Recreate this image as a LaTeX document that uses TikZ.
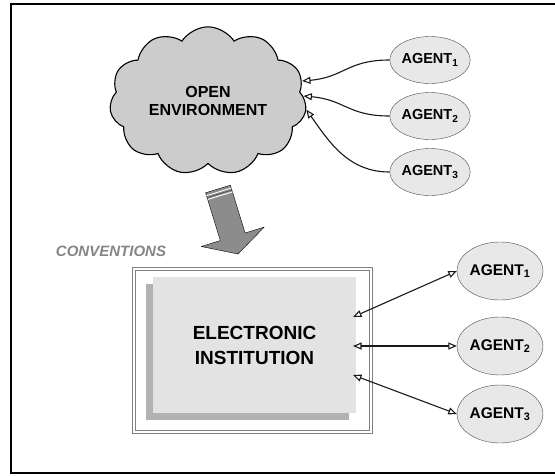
\documentclass[tikz,border=0pt]{standalone}
\usepackage{fontspec}
\setmainfont{Liberation Sans}
\usepackage{tikz}
\usetikzlibrary{arrows.meta,shapes.symbols,shapes.geometric,shadows,calc}

\begin{document}
\begin{tikzpicture}[x=1pt,y=-1pt,
  >={Triangle[open,length=8.5pt,width=7pt]},
  agent/.style={ellipse,draw=black!70,fill=black!9,inner sep=0pt,minimum width=67pt,minimum height=47pt,font=\bfseries\fontsize{14.5}{16}\selectfont},
  bigagent/.style={agent,minimum width=70pt,minimum height=58pt,font=\bfseries\fontsize{15.5}{17}\selectfont},
  link/.style={line width=1.1pt,black!90}]
\useasboundingbox (0,0) rectangle (555,475);
\draw[line width=1.5pt] (556,4) -- (11,4) -- (11,473) -- (556,473);

% open environment and its agents
\node (env) [cloud, cloud puffs=11, cloud puff arc=115, aspect=1.4, draw, line width=1.1pt, fill=black!20,
  minimum width=197pt, minimum height=143pt, align=center,
  font=\bfseries\fontsize{16}{18.5}\selectfont] at (208,101) {OPEN\\ENVIRONMENT};
\node (a1) [agent] at (430,60) {AGENT\textsubscript{1}};
\node (a2) [agent, below of=a1, node distance=56pt] {AGENT\textsubscript{2}};
\node (a3) [agent, below of=a2, node distance=56pt] {AGENT\textsubscript{3}};

\path[link]
(a1) edge [->, out=180, in=5, looseness=1.2] (env.12)
(a2) edge [->, out=180, in=-5, looseness=1.2] (env.3)
(a3) edge [->, out=180, in=-55] (env.-5);

% conventions arrow
\coordinate (l0) at (205.6,192.8);
\coordinate (r0) at (230.4,185.2);
\coordinate (lb) at (220.3,240.6);
\coordinate (rb) at (245.1,233.0);
\draw[fill=black!45, line join=round] (l0) -- (r0) -- (rb) -- (264.2,227.1) -- (238.0,254.0)
  -- (201.2,246.5) -- (lb) -- cycle;
\foreach \f in {0.06,0.14}
  \draw[white, line width=0.9pt] ($(l0)!\f!(lb)$) -- ($(r0)!\f!(rb)$);
\draw[black!70, line width=0.6pt] ($(l0)!0.1!(lb)$) -- ($(r0)!0.1!(rb)$);
\node (conv) [text=black!48, font=\bfseries\itshape\fontsize{15}{17}\selectfont] at (111,251) {CONVENTIONS};

% electronic institution and its agents
\node (frame) [draw=black!50, double=white, double distance=1.5pt, line width=1.2pt,
  minimum width=237pt, minimum height=163pt] at (252.5,350.5) {};
\node (ei) [fill=black!11, minimum width=203pt, minimum height=136pt,
  drop shadow={shadow xshift=-7pt, shadow yshift=-7pt, fill=black!30, opacity=1},
  align=center, font=\bfseries\fontsize{19}{25}\selectfont] at (254.5,345) {ELECTRONIC\\INSTITUTION};
\node (b1) [bigagent] at (500,271) {AGENT\textsubscript{1}};
\node (b2) [bigagent, below of=b1, node distance=75pt] {AGENT\textsubscript{2}};
\node (b3) [bigagent, below of=b2, node distance=68pt] {AGENT\textsubscript{3}};
\coordinate (p1) at (353,317);
\coordinate (p2) at (353,346);
\coordinate (p3) at (353,375);

\path[link]
(p1) edge [<->] (b1.west)
(p2) edge [<->] (b2.west)
(p3) edge [<->] (b3.west);
\end{tikzpicture}
\end{document}
